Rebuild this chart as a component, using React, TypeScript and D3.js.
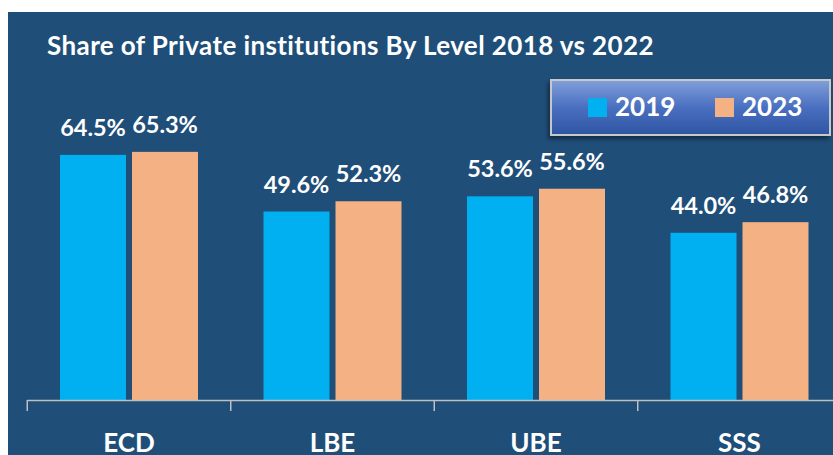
import React from "react";
import * as d3 from "d3";

const categories = ["ECD", "LBE", "UBE", "SSS"];
const seriesNames = ["2019", "2023"];
const values2019 = [64.5, 49.6, 53.6, 44.0];
const values2023 = [65.3, 52.3, 55.6, 46.8];
const colors = ["#00B0F0", "#F4B183"];
const title = "Share of Private institutions By Level 2018 vs 2022";

const W = 833;
const H = 455;
const FONT = "Lato, 'Open Sans', sans-serif";

export default function App() {
  const x = d3.scaleBand<string>().domain(categories).range([27.25, 841.25]).paddingInner(0).paddingOuter(0);
  const inner = d3.scaleBand<string>().domain(seriesNames).range([0, 138]).paddingInner(12 / 144);
  const y = d3.scaleLinear().domain([0, 100]).range([400, 20]);
  const series = [values2019, values2023];
  const band = x.bandwidth();
  const groupW = 138;

  return (
    <div style={{ position: "fixed", left: 0, top: 0, width: W, height: H, overflow: "hidden" }}>
      <svg width={W} height={H} style={{ display: "block" }}>
        <defs>
          <linearGradient id="legGrad" x1="0" y1="0" x2="0" y2="1">
            <stop offset="0%" stopColor="#819FDA" />
            <stop offset="50%" stopColor="#4A6FC0" />
            <stop offset="100%" stopColor="#2F55A3" />
          </linearGradient>
          <filter id="shadow" x="-10%" y="-20%" width="130%" height="160%">
            <feDropShadow dx="-2" dy="3" stdDeviation="2" floodColor="#000" floodOpacity="0.45" />
          </filter>
        </defs>
        <rect x={8} y={12} width={W - 8} height={H - 12} fill="#1F4E79" />
        <text x={47} y={55} fill="#fff" fontFamily={FONT} fontWeight="bold" fontSize={26} letterSpacing={0.4}>{title}</text>

        {categories.map((c, i) => {
          const gx = (x(c) as number) + band / 2 - groupW / 2;
          return (
            <g key={c}>
              {series.map((vals, s) => {
                const bx = gx + (inner(seriesNames[s]) as number);
                const bw = inner.bandwidth();
                const v = vals[i];
                return (
                  <g key={s}>
                    <rect x={bx} y={y(v)} width={bw} height={y(0) - y(v)} fill={colors[s]} />
                    <text x={bx + bw / 2} y={y(v) - 19} textAnchor="middle" fill="#fff" fontFamily={FONT} fontWeight="bold" fontSize={23.5}>
                      {v.toFixed(1)}%
                    </text>
                  </g>
                );
              })}
              <text x={(x(c) as number) + band / 2} y={452} textAnchor="middle" fill="#fff" fontFamily={FONT} fontWeight="bold" fontSize={26}>
                {c}
              </text>
            </g>
          );
        })}

        <line x1={x.range()[0]} x2={W} y1={y(0) + 0.5} y2={y(0) + 0.5} stroke="#BFBFBF" strokeWidth={1.5} />
        {categories.map((c) => (
          <line key={c} x1={(x(c) as number)} x2={(x(c) as number)} y1={y(0)} y2={411} stroke="#BFBFBF" strokeWidth={1.5} />
        ))}

        <g>
          <rect x={551} y={80} width={279} height={55} fill="url(#legGrad)" stroke="#C8C8C8" strokeWidth={2} filter="url(#shadow)" />
          {seriesNames.map((n, s) => {
            const lx = s === 0 ? 588 : 715;
            return (
              <g key={n}>
                <rect x={lx} y={98} width={19} height={19} fill={colors[s]} />
                <text x={lx + 27} y={116} fill="#fff" fontFamily={FONT} fontWeight="bold" fontSize={26}>{n}</text>
              </g>
            );
          })}
        </g>
      </svg>
    </div>
  );
}
